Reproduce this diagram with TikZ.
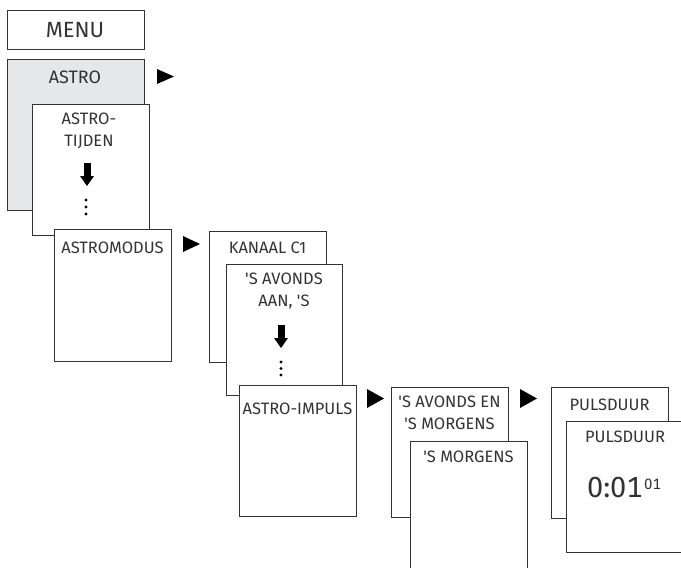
\documentclass[tikz,border=0pt]{standalone}
\usepackage{fontspec}
\setmainfont{Fira Sans}[Ligatures=TeXOff]
\newfontfamily\numfont{Fira Sans}[Numbers={Lining,Monospaced}]
\usetikzlibrary{arrows.meta}
\definecolor{lin}{HTML}{333333}
\definecolor{shade}{HTML}{E6E7E8}
\tikzset{
  menubox/.style={draw=lin, line width=1pt, fill=white},
  lbl/.style={inner sep=0pt, text=lin, font=\fontsize{16.5}{22}\selectfont, align=center},
  tri/.style={fill=black, draw=none},
  dotm/.style={fill=black, draw=none},
}
\begin{document}
\begin{tikzpicture}[x=1pt,y=-1pt]
\useasboundingbox (0,0) rectangle (681,568);
\clip (0,0) rectangle (681,568);
% MENU
\draw[menubox] (7,10) rectangle (144,49);
\node[lbl, font=\fontsize{22}{26}\selectfont] (menu) at (75,30) {MENU};
% ASTRO
\draw[menubox, fill=shade] (7,59) rectangle (144,210);
\node[lbl, font=\fontsize{18}{22}\selectfont] (astro) at (75,77.5) {ASTRO};
\fill[tri] (157,69) -- (174,76.5) -- (157,84) -- cycle;
% ASTRO-TIJDEN
\draw[menubox] (32,104) rectangle (149,235);
\node[lbl] (tijden) at (89,131) {ASTRO-\\TIJDEN};
\fill[tri] (83.5,163) rectangle (90.5,177);
\fill[tri] (80,176) -- (94,176) -- (87,186) -- cycle;
\foreach \yy in {200,207,214} \fill[dotm] (86,\yy) circle (1.6);
% ASTROMODUS
\draw[menubox] (54,229) rectangle (171,361);
\node[lbl] (modus) at (112.5,248) {ASTROMODUS};
\fill[tri] (183,236) -- (200,244) -- (183,252) -- cycle;
% KANAAL C1
\draw[menubox] (209,231) rectangle (326,362);
\node[lbl] (kanaal) at (267.5,248) {KANAAL C1};
% 'S AVONDS AAN, 'S
\draw[menubox] (226,264) rectangle (342,395);
\node[lbl] (avonds) at (284,291.5) {'S AVONDS\\AAN, 'S};
\fill[tri] (277.5,325) rectangle (284.5,339);
\fill[tri] (274,338) -- (288,338) -- (281,348) -- cycle;
\foreach \yy in {362,368.5,375} \fill[dotm] (281,\yy) circle (1.6);
% ASTRO-IMPULS
\draw[menubox] (239,385) rectangle (356,516);
\node[lbl] (impuls) at (297.5,409) {ASTRO-IMPULS};
\fill[tri] (367,389) -- (384,398.5) -- (367,408) -- cycle;
% 'S AVONDS EN 'S MORGENS
\draw[menubox] (391,387) rectangle (508,517);
\node[lbl] (avondsen) at (449.5,413) {'S AVONDS EN\\'S MORGENS};
% 'S MORGENS
\draw[menubox] (410,441) rectangle (527,580);
\node[lbl] (morgens) at (468.5,457) {'S MORGENS};
\fill[tri] (520,389) -- (537,398.5) -- (520,408) -- cycle;
% PULSDUUR back
\draw[menubox] (551,387) rectangle (668,518);
\node[lbl] (puls1) at (609.5,405) {PULSDUUR};
% PULSDUUR front
\draw[menubox] (566,421) rectangle (690,552);
\node[lbl] (puls2) at (625,437) {PULSDUUR};
\node[inner sep=0pt, text=lin] (val) at (624,488) {\numfont\fontsize{29}{32}\selectfont 0:01\hspace{1.5pt}\raisebox{8.5pt}{\fontsize{15}{16}\selectfont 01}};
\end{tikzpicture}
\end{document}
